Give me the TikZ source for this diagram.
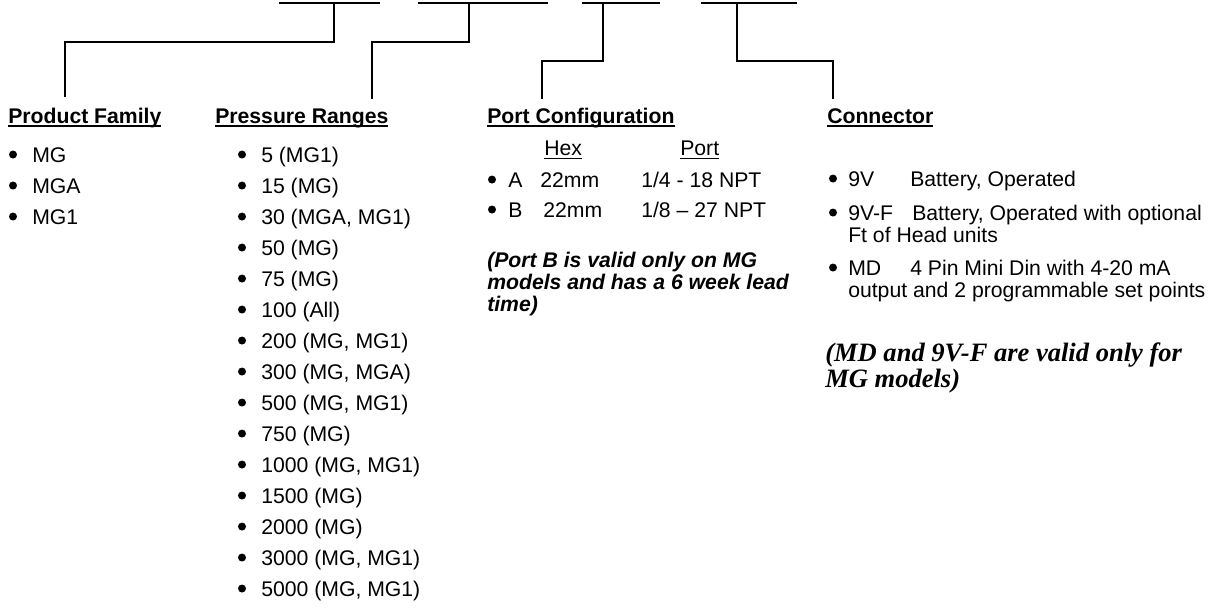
\documentclass[tikz,border=0pt]{standalone}
\usepackage{fontspec}
\setmainfont{Liberation Sans}
\newfontfamily\timesfont{Liberation Serif}
\newlength\ulwd
\newcommand\uline[2][1.8pt]{\settowidth\ulwd{#2}\rlap{\rule[-3.2pt]{\ulwd}{#1}}#2}
\tikzset{
  blank/.style={line width=2pt},
  link/.style={line width=1.1pt},
  txt/.style={anchor=base west, inner sep=0pt, font=\fontsize{15.9pt}{19pt}\selectfont},
  head/.style={txt, font=\fontsize{15.9pt}{19pt}\selectfont\bfseries},
  bul/.style={circle, fill, inner sep=0pt, minimum size=6pt, yshift=5.6pt},
  pnote/.style={txt, font=\fontsize{15.9pt}{19pt}\selectfont\bfseries\itshape},
  cnote/.style={txt, font=\fontsize{19.9pt}{24pt}\selectfont\timesfont\bfseries\itshape}
}
\begin{document}
\begin{tikzpicture}[x=0.75pt,y=-0.75pt]
  \useasboundingbox (0,0) rectangle (1209,608);
  % blanks of the model number
  \foreach \name/\a/\b/\t in {b1/279/380/334, b2/418/548/469, b3/582/660/603, b4/701/797/737} {
    \draw[blank] (\a,3) coordinate (\name w) -- (\b,3) coordinate (\name e);
    \coordinate (\name t) at (\t,3);
  }
  % headings
  \node[head] (fam) at (8,123) {\uline{Product Family}};
  \node[head] (rng) at (215,123) {\uline{Pressure Ranges}};
  \node[head] (port) at (487,123) {\uline{Port Configuration}};
  \node[head] (conn) at (827,123) {\uline{Connector}};
  \coordinate (fam top) at (65,97);
  \coordinate (rng top) at (372,99);
  \coordinate (port top) at (542,99);
  \coordinate (conn top) at (833,99);
  \draw[link] (b1t) -- ++(0,39) -| (fam top);
  \draw[link] (b2t) -- ++(0,39) -| (rng top);
  \draw[link] (b3t) -- ++(0,58) -| (port top);
  \draw[link] (b4t) -- ++(0,58) -| (conn top);
  % product family
  \foreach \val [count=\i from 0] in {MG, MGA, MG1} {
    \node[bul] (fb\i) at (13,162+31*\i) {};
    \node[txt] (f\i) at (32,162+31*\i) {\val};
  }
  % pressure ranges
  \foreach \val [count=\i from 0] in {5 (MG1), 15 (MG), {30 (MGA, MG1)}, 50 (MG), 75 (MG),
      100 (All), {200 (MG, MG1)}, {300 (MG, MGA)}, {500 (MG, MG1)}, 750 (MG),
      {1000 (MG, MG1)}, 1500 (MG), 2000 (MG), {3000 (MG, MG1)}, {5000 (MG, MG1)}} {
    \node[bul] (rb\i) at (242,162+31*\i) {};
    \node[txt] (r\i) at (261,162+31*\i) {\val};
  }
  % port configuration
  \node[txt] (hex) at (544,155) {\uline[0.9pt]{Hex}};
  \node[txt] (prt) at (680,155) {\uline[0.9pt]{Port}};
  \foreach \k/\hx/\np [count=\i from 0] in {A/540/{1/4 - 18 NPT}, B/543/{1/8 – 27 NPT}} {
    \node[bul] (pb\i) at (492,187+30*\i) {};
    \node[txt] (pk\i) at (508,187+30*\i) {\k};
    \node[txt] (ph\i) at (\hx,187+30*\i) {22mm};
    \node[txt] (pn\i) at (641,187+30*\i) {\np};
  }
  \foreach \ln [count=\i from 0] in {{(Port B is valid only on MG}, {models and has a 6 week lead}, {time)}}
    \node[pnote] (pnote\i) at (487,267+22*\i) {\ln};
  % connector
  \node[bul] (cb1) at (833,186) {};
  \node[txt] (c1) at (848,186) {9V};
  \node[txt] (c1d) at (910,186) {Battery, Operated};
  \node[bul] (cb2) at (833,220) {};
  \node[txt] (c2) at (848,220) {9V-F};
  \node[txt] (c2d) at (912,220) {Battery, Operated with optional};
  \node[txt] (c2e) at (848,242) {Ft of Head units};
  \node[bul] (cb3) at (833,275) {};
  \node[txt] (c3) at (848,275) {MD};
  \node[txt] (c3d) at (910,275) {4 Pin Mini Din with 4-20 mA};
  \node[txt] (c3e) at (848,297) {output and 2 programmable set points};
  \node[cnote] (cnote1) at (825,361) {(MD and 9V-F are valid only for};
  \node[cnote] (cnote2) at (825,387) {MG models)};
\end{tikzpicture}
\end{document}
